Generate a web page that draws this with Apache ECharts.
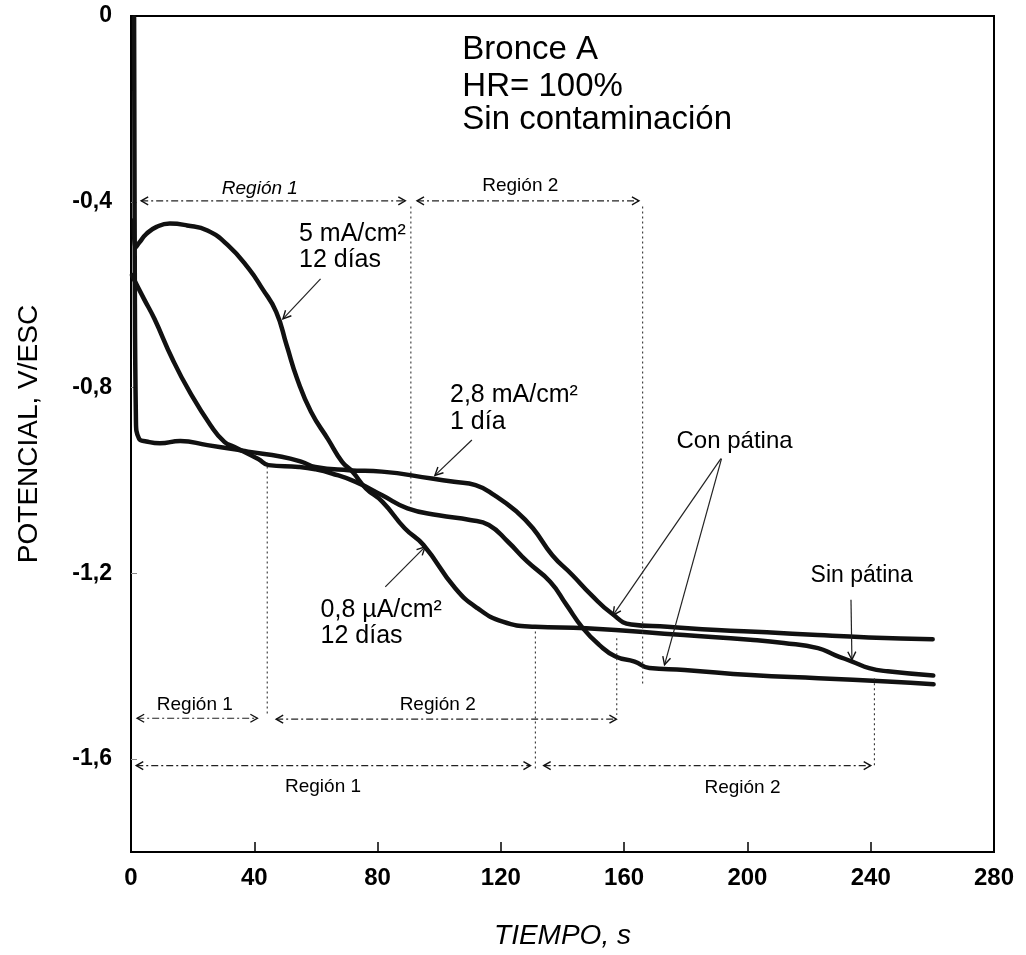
<!DOCTYPE html>
<html>
<head>
<meta charset="utf-8">
<script src="https://cdn.jsdelivr.net/npm/echarts@6/dist/echarts.min.js"></script>
<style>
html,body{margin:0;padding:0;background:#fff;}
#chart{width:1026px;height:955px;}
</style>
</head>
<body>
<div id="chart"></div>
<script>
// ---------------- DATA ----------------
// x axis (TIEMPO, s)
const xTicks = [0, 40, 80, 120, 160, 200, 240, 280];
const xTickLabels = ['0', '40', '80', '120', '160', '200', '240', '280'];
// y axis (POTENCIAL, V/ESC)
const yTickValues = [0, -0.4, -0.8, -1.2, -1.6];
const yTickLabels = ['0', '-0,4', '-0,8', '-1,2', '-1,6'];

// Curve: 5 mA/cm², 12 días
const time5 = [0.9, 1.3, 2.8, 5.0, 8.3, 12.6, 18.2, 24.8, 31.5, 38.2, 42.6, 47.1, 50.5, 53.9, 58.4, 64.0, 68.5, 71.8, 76.2, 81.6, 88.8, 94.9, 105.2, 112.4, 120.6, 131.1, 147.7, 179.4, 200.9, 211.8, 222.9, 228.4, 234.0, 239.5, 245.5, 260.3];
const pot5 = [-0.44, -0.50, -0.487, -0.469, -0.454, -0.447, -0.451, -0.462, -0.494, -0.544, -0.587, -0.637, -0.709, -0.781, -0.852, -0.912, -0.960, -0.981, -1.017, -1.046, -1.103, -1.139, -1.232, -1.275, -1.304, -1.315, -1.318, -1.333, -1.343, -1.350, -1.361, -1.376, -1.390, -1.404, -1.411, -1.420];

// Curve: 2,8 mA/cm², 1 día
const time28 = [1.0, 1.2, 1.6, 2.6, 5.0, 9.4, 16.0, 24.8, 33.6, 38.0, 48.9, 55.4, 59.8, 70.7, 81.4, 97.6, 104.8, 111.8, 118.0, 125.1, 130.4, 136.7, 143.1, 149.4, 155.9, 162.3, 174.0, 190.1, 206.3, 222.8, 239.3, 260.1];
const pot28 = [-0.003, -0.5, -0.87, -0.91, -0.916, -0.920, -0.915, -0.924, -0.933, -0.938, -0.949, -0.960, -0.971, -0.978, -0.981, -0.996, -1.003, -1.010, -1.032, -1.067, -1.103, -1.161, -1.203, -1.247, -1.286, -1.310, -1.315, -1.322, -1.327, -1.333, -1.338, -1.342];

// Curve: 0,8 µA/cm², 12 días
const time08 = [0.3, 4.2, 7.6, 13.4, 19.0, 25.8, 30.3, 33.6, 41.3, 44.6, 54.4, 59.8, 65.2, 72.9, 81.5, 89.7, 99.8, 110.0, 116.1, 122.3, 128.6, 136.0, 141.3, 146.6, 151.9, 157.2, 163.4, 168.2, 179.6, 201.1, 223.0, 245.4, 260.4];
const pot08 = [-0.558, -0.609, -0.652, -0.738, -0.809, -0.881, -0.917, -0.928, -0.954, -0.967, -0.971, -0.976, -0.985, -1.003, -1.032, -1.060, -1.075, -1.085, -1.096, -1.132, -1.175, -1.218, -1.268, -1.318, -1.354, -1.379, -1.390, -1.404, -1.408, -1.419, -1.426, -1.433, -1.439];

// ---------------- ANNOTATIONS (data coordinates) ----------------
const regionArrows = [
  {x1: 3.3, x2: 89.0, y: -0.398},
  {x1: 92.8, x2: 164.8, y: -0.398},
  {x1: 2.0, x2: 41.0, y: -1.512},
  {x1: 47.1, x2: 157.5, y: -1.514},
  {x1: 1.7, x2: 129.6, y: -1.614},
  {x1: 133.9, x2: 240.0, y: -1.614}
];
const dottedLines = [
  {x: 90.8, y1: -0.41, y2: -1.05},
  {x: 166.0, y1: -0.41, y2: -1.44},
  {x: 44.2, y1: -0.97, y2: -1.505},
  {x: 131.2, y1: -1.325, y2: -1.62},
  {x: 157.6, y1: -1.34, y2: -1.505},
  {x: 241.2, y1: -1.426, y2: -1.618}
];
const pointerArrows = [
  {from: [61.5, -0.566], to: [49.3, -0.652]},
  {from: [110.6, -0.913], to: [98.6, -0.989]},
  {from: [82.5, -1.229], to: [95.4, -1.143]},
  {from: [191.4, -0.953], to: [156.4, -1.290]},
  {from: [191.6, -0.953], to: [173.1, -1.397]},
  {from: [233.6, -1.257], to: [233.9, -1.386]}
];
const texts = [
  {t: 'Bronce A', x: 107.5, y: -0.074, size: 33},
  {t: 'HR= 100%', x: 107.5, y: -0.152, size: 33},
  {t: 'Sin contaminación', x: 107.5, y: -0.223, size: 33},
  {t: '5 mA/cm²', x: 54.5, y: -0.469, size: 25},
  {t: '12 días', x: 54.5, y: -0.526, size: 25},
  {t: '2,8 mA/cm²', x: 103.5, y: -0.817, size: 25},
  {t: '1 día', x: 103.5, y: -0.874, size: 25},
  {t: '0,8 µA/cm²', x: 61.5, y: -1.279, size: 25},
  {t: '12 días', x: 61.5, y: -1.335, size: 25},
  {t: 'Con pátina', x: 177.0, y: -0.916, size: 24},
  {t: 'Sin pátina', x: 220.5, y: -1.204, size: 23},
  {t: 'Región 1', x: 41.8, y: -0.372, size: 19, align: 'center', italic: true},
  {t: 'Región 2', x: 126.3, y: -0.365, size: 19, align: 'center'},
  {t: 'Región 1', x: 20.7, y: -1.483, size: 19, align: 'center'},
  {t: 'Región 2', x: 99.5, y: -1.483, size: 19, align: 'center'},
  {t: 'Región 1', x: 62.3, y: -1.659, size: 19, align: 'center'},
  {t: 'Región 2', x: 198.4, y: -1.662, size: 19, align: 'center'}
];

// ---------------- CHART ----------------
const FONT = '"Liberation Sans", Arial, Helvetica, sans-serif';
const chart = echarts.init(document.getElementById('chart'), null, {renderer: 'canvas'});

function pairs(t, v) { return t.map((x, i) => [x, v[i]]); }

const curves = [
  {name: '5 mA/cm², 12 días', t: time5, v: pot5},
  {name: '2,8 mA/cm², 1 día', t: time28, v: pot28},
  {name: '0,8 µA/cm², 12 días', t: time08, v: pot08}
];

chart.setOption({
  animation: false,
  backgroundColor: '#ffffff',
  grid: {
    left: 131, right: 32, top: 16, bottom: 103,
    show: true, borderColor: '#000', borderWidth: 2, backgroundColor: 'transparent',
    containLabel: false, outerBoundsMode: 'none'
  },
  xAxis: {
    type: 'value', min: 0, max: 280, interval: 40,
    name: 'TIEMPO, s', nameLocation: 'middle', nameGap: 70,
    nameTextStyle: {fontFamily: FONT, fontSize: 28, fontStyle: 'italic', color: '#000'},
    axisLine: {show: true, onZero: false, lineStyle: {color: '#000', width: 2}},
    axisTick: {show: true, inside: true, length: 10, customValues: xTicks.slice(1, -1), lineStyle: {color: '#000', width: 1.5}},
    axisLabel: {
      fontFamily: FONT, fontSize: 24, fontWeight: 'bold', color: '#000', margin: 14,
      formatter: function (v) { const i = xTicks.indexOf(v); return i >= 0 ? xTickLabels[i] : ''; }
    },
    splitLine: {show: false}
  },
  yAxis: {
    type: 'value', min: -1.8, max: 0, interval: 0.2,
    name: 'POTENCIAL, V/ESC', nameLocation: 'middle', nameGap: 88, nameRotate: 90,
    nameTextStyle: {fontFamily: FONT, fontSize: 28, color: '#000'},
    axisLine: {show: true, onZero: false, lineStyle: {color: '#000', width: 2}},
    axisTick: {show: true, inside: true, length: 6, customValues: yTickValues.slice(1), lineStyle: {color: '#888', width: 1}},
    axisLabel: {
      customValues: yTickValues,
      fontFamily: FONT, fontSize: 23, fontWeight: 'bold', color: '#000', margin: 19,
      formatter: function (v) {
        const i = yTickValues.findIndex(t => Math.abs(t - v) < 1e-9);
        return i >= 0 ? yTickLabels[i] : '';
      }
    },
    splitLine: {show: false}
  },
  series: curves.map(c => ({
    type: 'line', name: c.name, data: pairs(c.t, c.v),
    showSymbol: false, symbol: 'none', smooth: 0.5,
    lineStyle: {color: '#111', width: 4.5, cap: 'round', join: 'round'},
    z: 3
  }))
});

// ---------------- ANNOTATION GRAPHICS ----------------
function P(x, y) { return chart.convertToPixel({gridIndex: 0}, [x, y]); }
function chevron(tip, from, L, W) {
  L = L || 8; W = W || 4;
  const dx = tip[0] - from[0], dy = tip[1] - from[1];
  const len = Math.hypot(dx, dy) || 1;
  const ux = dx / len, uy = dy / len, nx = -uy, ny = ux;
  return {
    type: 'polyline', z: 20, silent: true,
    shape: {points: [[tip[0] - L * ux + W * nx, tip[1] - L * uy + W * ny], tip, [tip[0] - L * ux - W * nx, tip[1] - L * uy - W * ny]]},
    style: {stroke: '#111', lineWidth: 1.4, fill: null}
  };
}
const g = [];
regionArrows.forEach(a => {
  const p1 = P(a.x1, a.y), p2 = P(a.x2, a.y);
  g.push({type: 'line', z: 20, silent: true, shape: {x1: p1[0], y1: p1[1], x2: p2[0], y2: p2[1]},
    style: {stroke: '#222', lineWidth: 1.2, lineDash: [7, 3, 2, 3]}});
  g.push(chevron(p1, p2, 7, 4));
  g.push(chevron(p2, p1, 7, 4));
});
dottedLines.forEach(d => {
  const p1 = P(d.x, d.y1), p2 = P(d.x, d.y2);
  g.push({type: 'line', z: 20, silent: true, shape: {x1: p1[0], y1: p1[1], x2: p2[0], y2: p2[1]},
    style: {stroke: '#333', lineWidth: 1.1, lineDash: [2, 3]}});
});
pointerArrows.forEach(a => {
  const p1 = P(a.from[0], a.from[1]), p2 = P(a.to[0], a.to[1]);
  g.push({type: 'line', z: 20, silent: true, shape: {x1: p1[0], y1: p1[1], x2: p2[0], y2: p2[1]},
    style: {stroke: '#222', lineWidth: 1.2}});
  g.push(chevron(p2, p1, 8, 4));
});
texts.forEach(t => {
  const p = P(t.x, t.y);
  const al = t.align || 'left';
  g.push({type: 'text', z: 25, silent: true, x: p[0], y: p[1],
    style: {text: t.t, font: (t.italic ? 'italic ' : '') + t.size + 'px ' + FONT, fill: '#000',
      align: al, verticalAlign: 'middle', textAlign: al, textVerticalAlign: 'middle'}});
});
chart.setOption({graphic: {elements: g}});
</script>
</body>
</html>
